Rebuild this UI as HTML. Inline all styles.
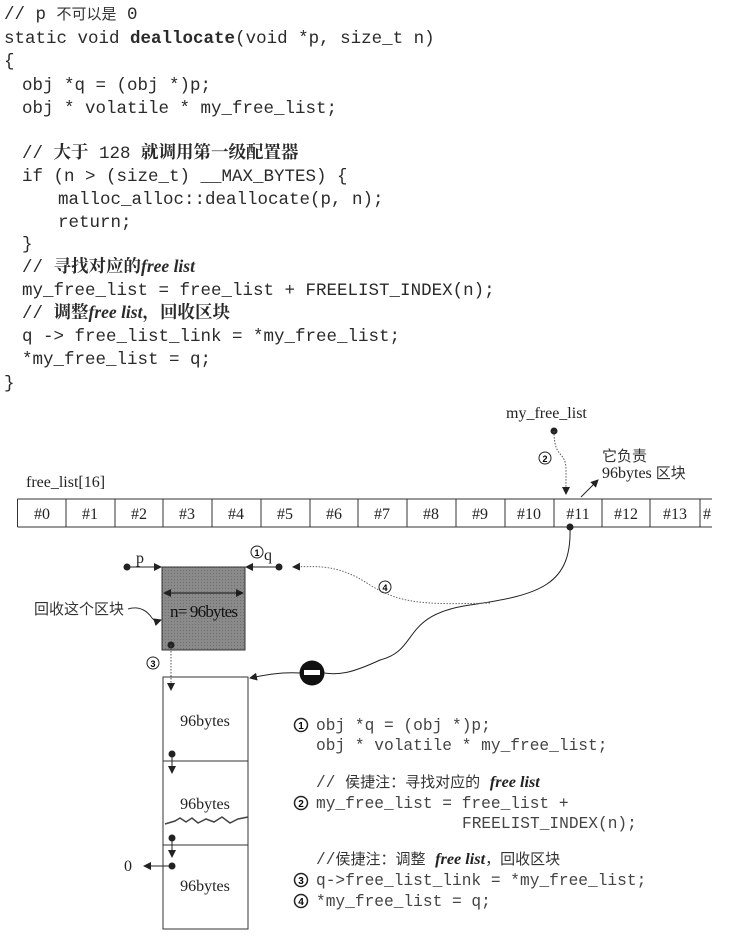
<!DOCTYPE html>
<html><head><meta charset="utf-8"><style>
body{margin:0;background:#fff;}
svg{display:block}
.c{font-family:"Liberation Mono","Noto Sans CJK SC",monospace;font-size:17.5px;fill:#2a2a2a;white-space:pre}
.cn{font-family:"Liberation Serif","Noto Serif CJK SC","Noto Sans CJK SC",serif;font-weight:bold;}
.s{font-family:"Liberation Serif","Noto Sans CJK SC",serif;font-size:16px;fill:#222}
.g{font-family:"Liberation Mono","Noto Sans CJK SC",monospace;font-size:16.2px;fill:#444;white-space:pre}
.k{font-family:"Noto Sans CJK SC",sans-serif;font-size:15px;fill:#333}
</style></head><body>
<svg width="755" height="946" viewBox="0 0 755 946" xmlns="http://www.w3.org/2000/svg">
<defs>
<marker id="a" markerWidth="8" markerHeight="8" refX="7" refY="4" orient="auto" markerUnits="userSpaceOnUse"><path d="M0,0 L8,4 L0,8z" fill="#222"/></marker>
<pattern id="gr" width="3" height="3" patternUnits="userSpaceOnUse"><rect width="3" height="3" fill="#8a8a8a"/><rect width="1" height="1" fill="#6e6e6e"/></pattern>
</defs>
<g class="c" xml:space="preserve">
<text x="4" y="19">// p <tspan class="k">不可以是</tspan> 0</text>
<text x="4" y="43">static void <tspan font-weight="bold">deallocate</tspan>(void *p, size_t n)</text>
<text x="4" y="66">{</text>
<text x="22" y="90">obj *q = (obj *)p;</text>
<text x="22" y="113">obj * volatile * my_free_list;</text>
<text x="22" y="158">// <tspan class="cn">大于</tspan> 128 <tspan class="cn">就调用第一级配置器</tspan></text>
<text x="22" y="181">if (n &gt; (size_t) __MAX_BYTES) {</text>
<text x="58" y="204">malloc_alloc::deallocate(p, n);</text>
<text x="58" y="227">return;</text>
<text x="22" y="249">}</text>
<text x="22" y="272">// <tspan class="cn">寻找对应的</tspan><tspan font-family="Liberation Serif" font-style="italic" font-weight="bold">free list</tspan></text>
<text x="22" y="295">my_free_list = free_list + FREELIST_INDEX(n);</text>
<text x="22" y="318">// <tspan class="cn">调整</tspan><tspan font-family="Liberation Serif" font-style="italic" font-weight="bold">free list</tspan><tspan class="cn">，回收区块</tspan></text>
<text x="22" y="341">q -&gt; free_list_link = *my_free_list;</text>
<text x="22" y="364">*my_free_list = q;</text>
<text x="4" y="388">}</text>
</g>

<text class="s" x="506" y="418">my_free_list</text>
<text class="s" x="26" y="487">free_list[16]</text>
<text class="k" x="602" y="461">它负责</text>
<text class="s" x="602" y="478">96bytes <tspan class="k">区块</tspan></text>

<g stroke="#333" stroke-width="1" fill="none">
<line x1="17.5" y1="499" x2="712" y2="499"/>
<line x1="17.5" y1="527" x2="712" y2="527"/>
<line x1="17.5" y1="499" x2="17.5" y2="527"/>
<line x1="66" y1="499" x2="66" y2="527"/><line x1="115" y1="499" x2="115" y2="527"/>
<line x1="163" y1="499" x2="163" y2="527"/><line x1="212" y1="499" x2="212" y2="527"/>
<line x1="261" y1="499" x2="261" y2="527"/><line x1="310" y1="499" x2="310" y2="527"/>
<line x1="358" y1="499" x2="358" y2="527"/><line x1="407" y1="499" x2="407" y2="527"/>
<line x1="456" y1="499" x2="456" y2="527"/><line x1="505" y1="499" x2="505" y2="527"/>
<line x1="554" y1="499" x2="554" y2="527"/><line x1="602" y1="499" x2="602" y2="527"/>
<line x1="650" y1="499" x2="650" y2="527"/><line x1="700" y1="499" x2="700" y2="527"/>
</g>
<g class="s" text-anchor="middle">
<text x="42" y="519">#0</text><text x="90" y="519">#1</text><text x="139" y="519">#2</text>
<text x="187" y="519">#3</text><text x="236" y="519">#4</text><text x="285" y="519">#5</text>
<text x="334" y="519">#6</text><text x="382" y="519">#7</text><text x="431" y="519">#8</text>
<text x="480" y="519">#9</text><text x="529" y="519">#10</text><text x="578" y="519">#11</text>
<text x="626" y="519">#12</text><text x="675" y="519">#13</text><text x="707" y="519">#</text>
</g>

<circle cx="554" cy="431" r="3.5" fill="#222"/>
<path d="M554,431 C554,460 566,450 566,470 L566,494" stroke="#555" stroke-dasharray="1.5,1.5" fill="none" marker-end="url(#a)"/>
<circle cx="545" cy="458" r="6" fill="none" stroke="#222"/><text x="545" y="462" font-size="9" text-anchor="middle" font-weight="bold" font-family="Liberation Sans">2</text>
<line x1="581" y1="497" x2="598" y2="480" stroke="#222" marker-end="url(#a)"/>

<circle cx="570" cy="527" r="3.5" fill="#222"/>
<path d="M570,527 C572,585 540,595 470,605 C400,615 420,650 380,660 C350,674 338,675 324,673" stroke="#222" fill="none" stroke-width="1"/>
<circle cx="312" cy="673" r="12.5" fill="#111"/>
<rect x="304" y="670" width="16" height="5" fill="#fff"/>
<path d="M300,673 C280,672 265,675 250,678" stroke="#222" fill="none" marker-end="url(#a)"/>

<path d="M490,603 C420,605 400,603 370,585 C340,565 320,566 293,567" stroke="#666" stroke-dasharray="1.5,1.5" fill="none" marker-end="url(#a)"/>
<circle cx="385" cy="587" r="6" fill="none" stroke="#222"/><text x="385" y="591" font-size="9" text-anchor="middle" font-weight="bold" font-family="Liberation Sans">4</text>

<rect x="162" y="567" width="83" height="83" fill="url(#gr)" stroke="#333"/>
<line x1="164" y1="593" x2="243" y2="593" stroke="#111" marker-end="url(#a)"/>
<line x1="243" y1="593" x2="164" y2="593" stroke="#111" marker-end="url(#a)"/>
<text x="170" y="617" font-family="Liberation Serif" font-size="17" fill="#111" letter-spacing="-0.8">n= 96bytes</text>
<circle cx="127" cy="567" r="3.5" fill="#222"/>
<line x1="127" y1="567" x2="161" y2="567" stroke="#222" marker-end="url(#a)"/>
<text class="s" x="136" y="563">p</text>
<circle cx="279" cy="567" r="3.5" fill="#222"/>
<line x1="279" y1="567" x2="246" y2="567" stroke="#222" marker-end="url(#a)"/>
<circle cx="257" cy="552" r="6" fill="none" stroke="#222"/><text x="257" y="556" font-size="9" text-anchor="middle" font-weight="bold" font-family="Liberation Sans">1</text>
<text class="s" x="264" y="560">q</text>
<text class="k" x="34" y="614">回收这个区块</text>
<path d="M128,609 C140,605 148,612 152,618 C155,622 158,621 161,620" stroke="#333" fill="none" marker-end="url(#a)"/>

<circle cx="171" cy="645" r="3.5" fill="#222"/>
<line x1="171" y1="645" x2="171" y2="690" stroke="#555" stroke-dasharray="1.5,1.5" marker-end="url(#a)"/>
<circle cx="153" cy="663" r="6" fill="none" stroke="#222"/><text x="153" y="667" font-size="9" text-anchor="middle" font-weight="bold" font-family="Liberation Sans">3</text>

<rect x="163" y="677" width="85" height="252" fill="none" stroke="#333"/>
<line x1="163" y1="761" x2="248" y2="761" stroke="#333"/>
<line x1="163" y1="845" x2="248" y2="845" stroke="#333"/>
<path d="M165,824 L175,821 L180,818 L186,822 L192,818 L198,823 L206,819 L214,822 L222,817 L230,823 L238,819 L248,817" stroke="#444" fill="none" stroke-width="1.5"/>
<g class="s" text-anchor="middle"><text x="205" y="726">96bytes</text><text x="205" y="809">96bytes</text><text x="205" y="891">96bytes</text></g>
<circle cx="172" cy="754" r="3.5" fill="#222"/><line x1="172" y1="754" x2="172" y2="773" stroke="#222" marker-end="url(#a)"/>
<circle cx="172" cy="838" r="3.5" fill="#222"/><line x1="172" y1="838" x2="172" y2="857" stroke="#222" marker-end="url(#a)"/>
<circle cx="172" cy="866" r="3.5" fill="#222"/><line x1="172" y1="866" x2="144" y2="866" stroke="#222" marker-end="url(#a)"/>
<text class="s" x="124" y="871">0</text>

<g font-family="Liberation Sans" font-size="10" font-weight="bold" text-anchor="middle">
<circle cx="301" cy="725" r="6.5" fill="none" stroke="#222" stroke-width="1.5"/><text x="301" y="729">1</text>
<circle cx="301" cy="803" r="6.5" fill="none" stroke="#222" stroke-width="1.5"/><text x="301" y="807">2</text>
<circle cx="301" cy="880" r="6.5" fill="none" stroke="#222" stroke-width="1.5"/><text x="301" y="884">3</text>
<circle cx="301" cy="901" r="6.5" fill="none" stroke="#222" stroke-width="1.5"/><text x="301" y="905">4</text>
</g>
<g class="g" xml:space="preserve">
<text x="316" y="730">obj *q = (obj *)p;</text>
<text x="316" y="750">obj * volatile * my_free_list;</text>
<text x="316" y="787">// <tspan class="k">侯捷注：寻找对应的</tspan> <tspan font-family="Liberation Serif" font-style="italic" font-weight="bold" fill="#222">free list</tspan></text>
<text x="316" y="808">my_free_list = free_list +</text>
<text x="462" y="828">FREELIST_INDEX(n);</text>
<text x="316" y="864">//<tspan class="k">侯捷注：调整</tspan> <tspan font-family="Liberation Serif" font-style="italic" font-weight="bold" fill="#222">free list</tspan><tspan class="k">，回收区块</tspan></text>
<text x="316" y="885">q-&gt;free_list_link = *my_free_list;</text>
<text x="316" y="906">*my_free_list = q;</text>
</g>
</svg>
</body></html>
